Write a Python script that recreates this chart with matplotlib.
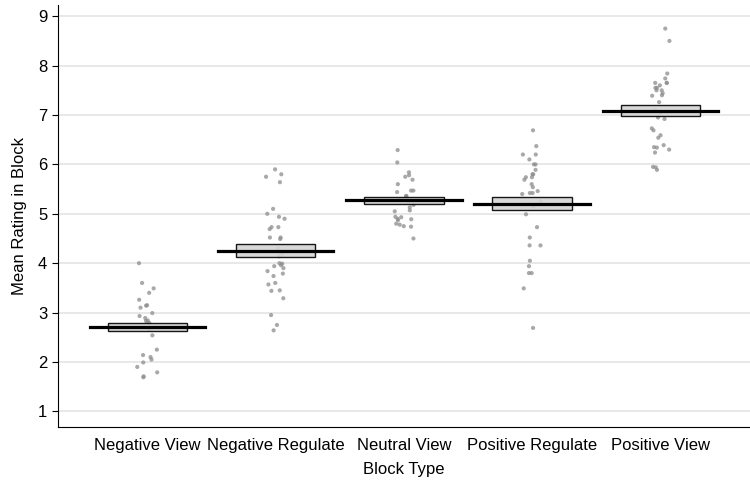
import matplotlib.pyplot as plt
import numpy as np
from matplotlib.patches import Rectangle

plt.rcParams['font.family'] = ['Liberation Sans', 'DejaVu Sans']

categories = ['Negative View', 'Negative Regulate', 'Neutral View',
              'Positive Regulate', 'Positive View']

neg_view = [4.0, 3.60, 3.49, 3.40, 3.26, 3.14, 3.15, 3.10, 2.99, 2.93,
            2.89, 2.84, 2.83, 2.79, 2.54, 2.25, 2.14, 2.10, 2.05, 1.99,
            1.90, 1.79, 1.69, 1.71, 2.70, 2.66]
neg_regulate = [5.90, 5.80, 5.75, 5.64, 5.10, 5.00, 4.94, 4.90, 4.69, 4.73,
                4.73, 4.52, 4.49, 4.52, 4.20, 4.14, 4.00, 3.99, 3.94, 3.96,
                3.90, 3.84, 3.79, 3.74, 3.60, 3.57, 3.45, 3.44, 3.29, 2.95,
                2.75, 2.64, 4.30]
neutral_view = [6.29, 6.04, 5.84, 5.78, 5.75, 5.69, 5.60, 5.47, 5.44, 5.47,
                5.36, 5.36, 5.18, 5.13, 5.07, 5.05, 4.93, 4.94, 4.90, 4.87,
                4.89, 4.80, 4.78, 4.75, 4.74, 4.50, 5.25, 5.28]
pos_regulate = [6.69, 6.37, 6.20, 6.20, 6.10, 6.00, 6.00, 5.89, 5.80, 5.80,
                5.74, 5.74, 5.69, 5.60, 5.54, 5.46, 5.42, 5.40, 5.42, 4.99,
                4.73, 4.52, 4.36, 4.36, 4.05, 3.94, 3.80, 3.80, 3.49, 2.69,
                5.25, 5.15]
pos_view = [8.75, 8.50, 7.84, 7.74, 7.65, 7.65, 7.65, 7.60, 7.55, 7.55,
            7.50, 7.50, 7.44, 7.40, 7.39, 7.26, 6.95, 6.92, 6.73, 6.69,
            6.59, 6.54, 6.39, 6.34, 6.35, 6.30, 6.24, 5.95, 5.94, 5.89,
            7.10, 7.05]

means = [2.70, 4.25, 5.27, 5.20, 7.08]
box_low = [2.62, 4.12, 5.20, 5.07, 6.98]
box_high = [2.78, 4.38, 5.33, 5.35, 7.20]

groups = [neg_view, neg_regulate, neutral_view, pos_regulate, pos_view]


def plot(ax):
    rng = np.random.default_rng(3)
    for i, vals in enumerate(groups):
        vals = np.array(vals)
        jitter = rng.uniform(-0.08, 0.08, len(vals))
        ax.scatter(i + jitter, vals, s=9, color='#8c8c8c', alpha=0.75,
                   edgecolors='none', zorder=2)
        ax.add_patch(Rectangle((i - 0.31, box_low[i]), 0.62,
                               box_high[i] - box_low[i],
                               facecolor='#d4d4d4', edgecolor='black',
                               linewidth=1.0, alpha=0.9, zorder=3))
        ax.plot([i - 0.45, i + 0.45], [means[i], means[i]],
                color='black', linewidth=2.3, zorder=4)

    ax.set_xlim(-0.7, 4.7)
    ax.set_ylim(0.68, 9.22)
    ax.set_yticks(range(1, 10))
    ax.set_xticks(range(len(categories)))
    ax.set_xticklabels(categories, fontsize=12)
    ax.tick_params(axis='y', labelsize=12, length=4)
    ax.tick_params(axis='x', length=0, pad=8)
    ax.grid(axis='y', color='#e6e6e6', linewidth=1.3, zorder=0)
    ax.set_axisbelow(True)
    ax.spines['top'].set_visible(False)
    ax.spines['right'].set_visible(False)
    ax.set_xlabel('Block Type', fontsize=12, labelpad=6)
    ax.set_ylabel('Mean Rating in Block', fontsize=12, labelpad=8)


def main():
    fig = plt.figure(figsize=(7.5, 4.86), dpi=100)
    ax = fig.add_axes([0.077, 0.121, 0.923, 0.868])
    plot(ax)
    fig.savefig('out.png', dpi=100)


if __name__ == "__main__":
    main()
